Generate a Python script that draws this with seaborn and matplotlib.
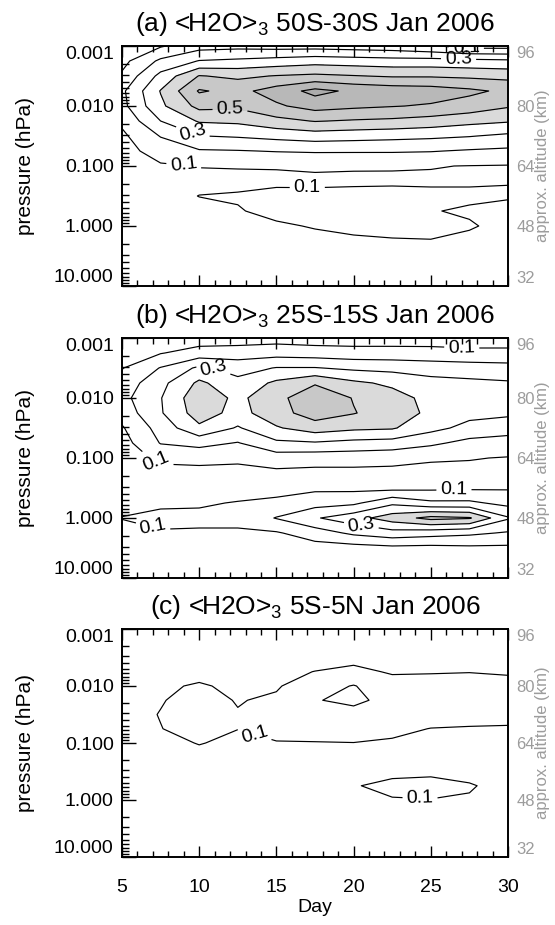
import numpy as np
import matplotlib
matplotlib.use("Agg")
import matplotlib.pyplot as plt
import seaborn as sns

# ---------------- data ----------------
days = [5, 7.5, 10, 12.5, 15, 17.5, 20, 22.5, 25, 27.5, 30]
# log10(pressure / hPa), from 0.001 hPa (top) to 10 hPa (bottom)
log_pressure = [-3, -2.75, -2.5, -2.25, -2, -1.75, -1.5, -1.25, -1,
                -0.75, -0.5, -0.25, 0, 0.25, 0.5, 0.75, 1]

# each inner list: one day's profile, top (0.001 hPa) -> bottom (10 hPa)
h2o_a = [
    [0.04, 0.07, 0.115, 0.18, 0.17, 0.12, 0.08, 0.065, 0.06, 0.06, 0.06, 0.05, 0.05, 0.04, 0.03, 0.025, 0.02],
    [0.09, 0.22, 0.33, 0.405, 0.38, 0.3, 0.205, 0.14, 0.09, 0.075, 0.08, 0.07, 0.06, 0.05, 0.04, 0.03, 0.02],
    [0.16, 0.305, 0.505, 0.61, 0.53, 0.41, 0.298, 0.19, 0.102, 0.085, 0.101, 0.085, 0.07, 0.055, 0.045, 0.035, 0.025],
    [0.17, 0.32, 0.48, 0.57, 0.52, 0.42, 0.31, 0.195, 0.105, 0.08, 0.107, 0.095, 0.08, 0.06, 0.045, 0.035, 0.025],
    [0.16, 0.34, 0.505, 0.645, 0.585, 0.47, 0.33, 0.205, 0.105, 0.085, 0.12, 0.12, 0.09, 0.07, 0.05, 0.035, 0.025],
    [0.16, 0.36, 0.52, 0.73, 0.64, 0.505, 0.35, 0.21, 0.115, 0.08, 0.125, 0.13, 0.105, 0.08, 0.06, 0.04, 0.03],
    [0.15, 0.35, 0.505, 0.68, 0.62, 0.49, 0.34, 0.21, 0.108, 0.085, 0.125, 0.135, 0.115, 0.09, 0.065, 0.045, 0.03],
    [0.14, 0.34, 0.49, 0.66, 0.605, 0.48, 0.33, 0.21, 0.105, 0.09, 0.12, 0.13, 0.12, 0.095, 0.07, 0.05, 0.035],
    [0.11, 0.34, 0.49, 0.65, 0.59, 0.46, 0.32, 0.205, 0.103, 0.09, 0.115, 0.104, 0.115, 0.098, 0.07, 0.05, 0.035],
    [0.06, 0.33, 0.48, 0.62, 0.56, 0.43, 0.305, 0.19, 0.098, 0.09, 0.115, 0.09, 0.108, 0.08, 0.06, 0.045, 0.03],
    [0.06, 0.32, 0.47, 0.58, 0.51, 0.41, 0.28, 0.18, 0.095, 0.098, 0.105, 0.085, 0.075, 0.06, 0.045, 0.035, 0.025],
]
h2o_b = [
    [0.04, 0.06, 0.095, 0.14, 0.17, 0.14, 0.09, 0.06, 0.05, 0.05, 0.06, 0.08, 0.102, 0.08, 0.05, 0.03, 0.02],
    [0.06, 0.095, 0.205, 0.27, 0.295, 0.29, 0.24, 0.205, 0.12, 0.07, 0.05, 0.08, 0.13, 0.09, 0.06, 0.04, 0.025],
    [0.05, 0.14, 0.32, 0.42, 0.47, 0.45, 0.38, 0.23, 0.13, 0.07, 0.05, 0.09, 0.12, 0.09, 0.06, 0.04, 0.025],
    [0.05, 0.15, 0.26, 0.33, 0.375, 0.365, 0.29, 0.195, 0.12, 0.07, 0.06, 0.105, 0.13, 0.085, 0.06, 0.04, 0.025],
    [0.06, 0.16, 0.305, 0.42, 0.47, 0.46, 0.39, 0.28, 0.15, 0.08, 0.06, 0.125, 0.205, 0.09, 0.065, 0.04, 0.025],
    [0.05, 0.15, 0.305, 0.49, 0.57, 0.55, 0.45, 0.29, 0.14, 0.075, 0.08, 0.16, 0.29, 0.15, 0.06, 0.04, 0.025],
    [0.05, 0.14, 0.28, 0.42, 0.495, 0.505, 0.42, 0.27, 0.14, 0.075, 0.075, 0.18, 0.36, 0.22, 0.06, 0.04, 0.025],
    [0.05, 0.14, 0.27, 0.38, 0.44, 0.45, 0.41, 0.26, 0.13, 0.075, 0.07, 0.28, 0.45, 0.26, 0.075, 0.045, 0.03],
    [0.06, 0.13, 0.26, 0.33, 0.37, 0.38, 0.33, 0.22, 0.11, 0.075, 0.08, 0.22, 0.53, 0.24, 0.07, 0.045, 0.03],
    [0.06, 0.12, 0.25, 0.32, 0.35, 0.33, 0.27, 0.17, 0.105, 0.075, 0.085, 0.22, 0.51, 0.22, 0.08, 0.05, 0.03],
    [0.06, 0.12, 0.24, 0.31, 0.34, 0.32, 0.24, 0.16, 0.095, 0.08, 0.09, 0.17, 0.31, 0.19, 0.08, 0.05, 0.03],
]
h2o_c = [
    [0.03, 0.04, 0.05, 0.06, 0.065, 0.07, 0.07, 0.065, 0.06, 0.05, 0.05, 0.05, 0.045, 0.04, 0.03, 0.025, 0.02],
    [0.035, 0.045, 0.055, 0.07, 0.085, 0.095, 0.103, 0.098, 0.08, 0.06, 0.055, 0.055, 0.05, 0.045, 0.035, 0.03, 0.02],
    [0.04, 0.05, 0.06, 0.07, 0.11, 0.13, 0.14, 0.13, 0.103, 0.08, 0.06, 0.06, 0.055, 0.05, 0.04, 0.03, 0.02],
    [0.04, 0.05, 0.055, 0.06, 0.08, 0.095, 0.105, 0.101, 0.085, 0.07, 0.065, 0.065, 0.06, 0.05, 0.04, 0.03, 0.02],
    [0.045, 0.055, 0.065, 0.075, 0.09, 0.115, 0.14, 0.13, 0.095, 0.075, 0.07, 0.07, 0.065, 0.055, 0.045, 0.03, 0.02],
    [0.045, 0.055, 0.06, 0.102, 0.16, 0.195, 0.17, 0.13, 0.097, 0.07, 0.07, 0.075, 0.07, 0.06, 0.045, 0.035, 0.025],
    [0.045, 0.055, 0.07, 0.125, 0.205, 0.22, 0.17, 0.13, 0.099, 0.08, 0.085, 0.095, 0.08, 0.06, 0.045, 0.035, 0.025],
    [0.045, 0.055, 0.065, 0.09, 0.14, 0.17, 0.16, 0.12, 0.09, 0.075, 0.08, 0.12, 0.095, 0.07, 0.05, 0.035, 0.025],
    [0.045, 0.055, 0.07, 0.095, 0.13, 0.16, 0.14, 0.098, 0.085, 0.075, 0.085, 0.125, 0.098, 0.07, 0.05, 0.035, 0.025],
    [0.045, 0.055, 0.07, 0.098, 0.13, 0.16, 0.15, 0.09, 0.08, 0.075, 0.08, 0.105, 0.095, 0.07, 0.05, 0.035, 0.025],
    [0.045, 0.055, 0.07, 0.09, 0.13, 0.16, 0.18, 0.075, 0.07, 0.065, 0.07, 0.08, 0.075, 0.06, 0.05, 0.035, 0.025],
]

titles = ["(a) <H2O>$_3$ 50S-30S Jan 2006",
          "(b) <H2O>$_3$ 25S-15S Jan 2006",
          "(c) <H2O>$_3$ 5S-5N Jan 2006"]
plain_levels = [0.2, 0.4, 0.6, 0.7]
labelled_levels = [0.1, 0.3, 0.5]
fill_levels = [0.4, 0.5, 0.6, 0.7, 1.0]
fill_colors = ["#dadada", "#c8c8c8", "#b8b8b8", "#acacac"]
pressure_ticks = [-3, -2, -1, 0, 1]
pressure_labels = ["0.001", "0.010", "0.100", "1.000", "10.000"]
altitude_ticks = [96, 80, 64, 48, 32]
day_ticks = [5, 10, 15, 20, 25, 30]

# contour-label anchor positions (day, log10 p) per panel
label_spots = [
    [(27.3, -2.96), (26.8, -2.80), (12.0, -1.95), (9.5, -1.50), (9.0, -1.00), (17.0, -0.66)],
    [(27.0, -2.80), (11.0, -2.54), (7.2, -0.92), (26.5, -0.45), (20.5, 0.12), (7.0, 0.16)],
    [(13.7, -1.25), (24.3, 0.0)],
]

# ---------------- style ----------------
sns.set_style("ticks")
plt.rcParams["font.family"] = ["Liberation Sans", "DejaVu Sans"]
plt.rcParams["mathtext.fontset"] = "custom"
plt.rcParams["mathtext.rm"] = "Liberation Sans"
plt.rcParams["mathtext.it"] = "Liberation Sans:italic"
plt.rcParams["text.color"] = "black"
plt.rcParams["axes.labelcolor"] = "black"
plt.rcParams["axes.edgecolor"] = "black"
plt.rcParams["xtick.color"] = "black"
plt.rcParams["ytick.color"] = "black"

fig = plt.figure(figsize=(5.55, 9.25), dpi=100)
W, H = 555.0, 925.0
left_px, right_px = 122, 508
frames_px = [(46, 286), (338, 578), (629, 857)]   # (top, bottom) of each panel

minor_y = [np.log10(k * 10.0 ** e) for e in range(-3, 1) for k in range(2, 10)]
gray = "#9c9c9c"

fields = [h2o_a, h2o_b, h2o_c]
for i, (field, title) in enumerate(zip(fields, titles)):
    top, bot = frames_px[i]
    ax = fig.add_axes([left_px / W, 1 - bot / H,
                       (right_px - left_px) / W, (bot - top) / H])
    Z = np.array(field).T
    X, Y = np.meshgrid(days, log_pressure)
    ax.contourf(X, Y, Z, levels=fill_levels, colors=fill_colors)
    ax.contour(X, Y, Z, levels=plain_levels, colors="black", linewidths=0.85)
    present = [l for l in labelled_levels if Z.max() > l]
    cs = ax.contour(X, Y, Z, levels=present, colors="black", linewidths=0.85)
    ax.clabel(cs, manual=label_spots[i], inline=True, fmt="%.1f",
              fontsize=14, inline_spacing=4)

    ax.set_xlim(5, 30)
    ax.set_ylim(1, -3)
    ax.set_xticks(day_ticks)
    ax.set_xticks(range(5, 31), minor=True)
    ax.set_yticks(pressure_ticks, labels=pressure_labels)
    ax.set_yticks(minor_y, minor=True)
    ax.tick_params(which="both", direction="in", top=True, right=True,
                   labelsize=14, width=1, colors="black")
    ax.tick_params(axis="y", which="major", length=10, pad=6)
    ax.tick_params(axis="y", which="minor", length=5)
    ax.tick_params(axis="x", which="major", length=8)
    ax.tick_params(axis="x", which="minor", length=4)
    for s in ax.spines.values():
        s.set_linewidth(1.4)
        s.set_color("black")
    ax.set_ylabel("pressure (hPa)", fontsize=15, color="black")
    ax.yaxis.set_label_coords(-0.225, 0.5)
    ax.set_title(title, fontsize=19, pad=11, color="black")
    yt = ax.yaxis.get_major_ticks()
    yt[0].label1.set_verticalalignment("top")
    yt[-1].label1.set_verticalalignment("bottom")

    if i < 2:
        ax.tick_params(axis="x", labelbottom=False)
    else:
        ax.tick_params(axis="x", pad=16)
        ax.set_xlabel("Day", fontsize=14, color="black")
        ax.xaxis.set_label_coords(0.5, -0.185)

    ax2 = ax.twinx()
    ax2.set_ylim(32, 96)
    ax2.set_yticks(altitude_ticks, labels=[str(a) for a in altitude_ticks])
    ax2.tick_params(axis="y", length=0, labelsize=12, colors=gray, pad=6)
    for s in ax2.spines.values():
        s.set_visible(False)
    at = ax2.yaxis.get_major_ticks()
    at[0].label2.set_verticalalignment("top")
    at[-1].label2.set_verticalalignment("bottom")
    ax2.set_ylabel("approx. altitude (km)", fontsize=12, color=gray)
    ax2.yaxis.set_label_coords(1.07, 0.5)

fig.savefig("out.png", dpi=100)
